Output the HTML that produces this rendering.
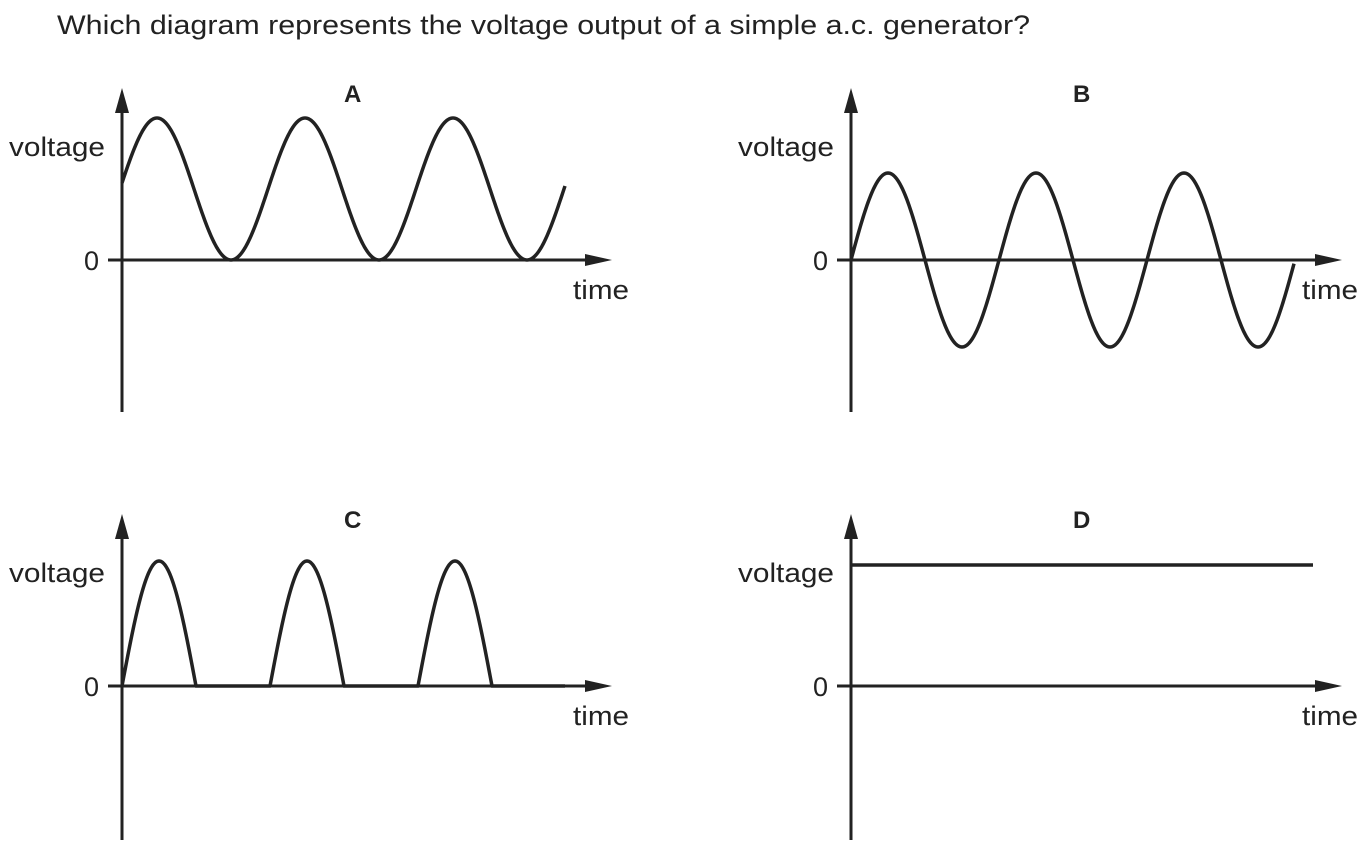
<!DOCTYPE html>
<html><head><meta charset="utf-8"><style>
body{margin:0;background:#fff;width:1363px;height:858px;overflow:hidden}
svg text{font-family:"Liberation Sans",Arial,sans-serif;fill:#222}
</style></head><body>
<svg id="s" width="1363" height="858" xmlns="http://www.w3.org/2000/svg">
<text x="57" y="34" font-size="27" textLength="973" lengthAdjust="spacingAndGlyphs">Which diagram represents the voltage output of a simple a.c. generator?</text>
<g font-size="27">
<text x="9" y="156" textLength="96" lengthAdjust="spacingAndGlyphs">voltage</text><text x="738" y="156" textLength="96" lengthAdjust="spacingAndGlyphs">voltage</text>
<text x="9" y="582" textLength="96" lengthAdjust="spacingAndGlyphs">voltage</text><text x="738" y="582" textLength="96" lengthAdjust="spacingAndGlyphs">voltage</text>
<text x="84" y="270">0</text><text x="813" y="270">0</text>
<text x="84" y="696">0</text><text x="813" y="696">0</text>
<text x="573" y="299" textLength="56" lengthAdjust="spacingAndGlyphs">time</text><text x="1302" y="299" textLength="56" lengthAdjust="spacingAndGlyphs">time</text>
<text x="573" y="725" textLength="56" lengthAdjust="spacingAndGlyphs">time</text><text x="1302" y="725" textLength="56" lengthAdjust="spacingAndGlyphs">time</text>
</g>
<g font-size="24" font-weight="bold">
<text x="344" y="102">A</text><text x="1073" y="102">B</text>
<text x="344" y="528">C</text><text x="1073" y="528">D</text>
</g>
<g stroke="#222" stroke-width="3" fill="none">
<line x1="122" y1="108" x2="122" y2="412"/><line x1="108" y1="260" x2="590" y2="260"/>
<line x1="851" y1="108" x2="851" y2="412"/><line x1="837" y1="260" x2="1320" y2="260"/>
<line x1="122" y1="534" x2="122" y2="840"/><line x1="108" y1="686" x2="590" y2="686"/>
<line x1="851" y1="534" x2="851" y2="840"/><line x1="837" y1="686" x2="1320" y2="686"/>
</g>
<g fill="#222">
<polygon points="122,88 115,113 129,113"/><polygon points="851,88 844,113 858,113"/>
<polygon points="122,514 115,539 129,539"/><polygon points="851,514 844,539 858,539"/>
<polygon points="612,260 585,254 585,266"/><polygon points="1342,260 1315,254 1315,266"/>
<polygon points="612,686 585,680 585,692"/><polygon points="1342,686 1315,680 1315,692"/>
</g>
<g stroke="#222" stroke-width="3.5" fill="none" stroke-linejoin="round">
<path id="pa"/><path id="pb"/><path id="pc"/>
<line x1="851" y1="565" x2="1313" y2="565"/>
</g>
</svg>
<script>
function P(x0,x1,f){var d="";for(var x=x0;x<=x1;x+=1){d+=(x==x0?"M":"L")+x+","+f(x).toFixed(2)+" ";}return d;}
var T=148;
document.getElementById("pa").setAttribute("d",P(122,565,function(x){return 189-71*Math.cos(2*Math.PI*(x-157)/T);}));
document.getElementById("pb").setAttribute("d",P(851,1294,function(x){return 260-87*Math.sin(2*Math.PI*(x-851)/T);}));
document.getElementById("pc").setAttribute("d",P(122,565,function(x){var s=Math.sin(2*Math.PI*(x-122)/T);return 686-125*Math.max(0,s);}));
</script>
</body></html>
